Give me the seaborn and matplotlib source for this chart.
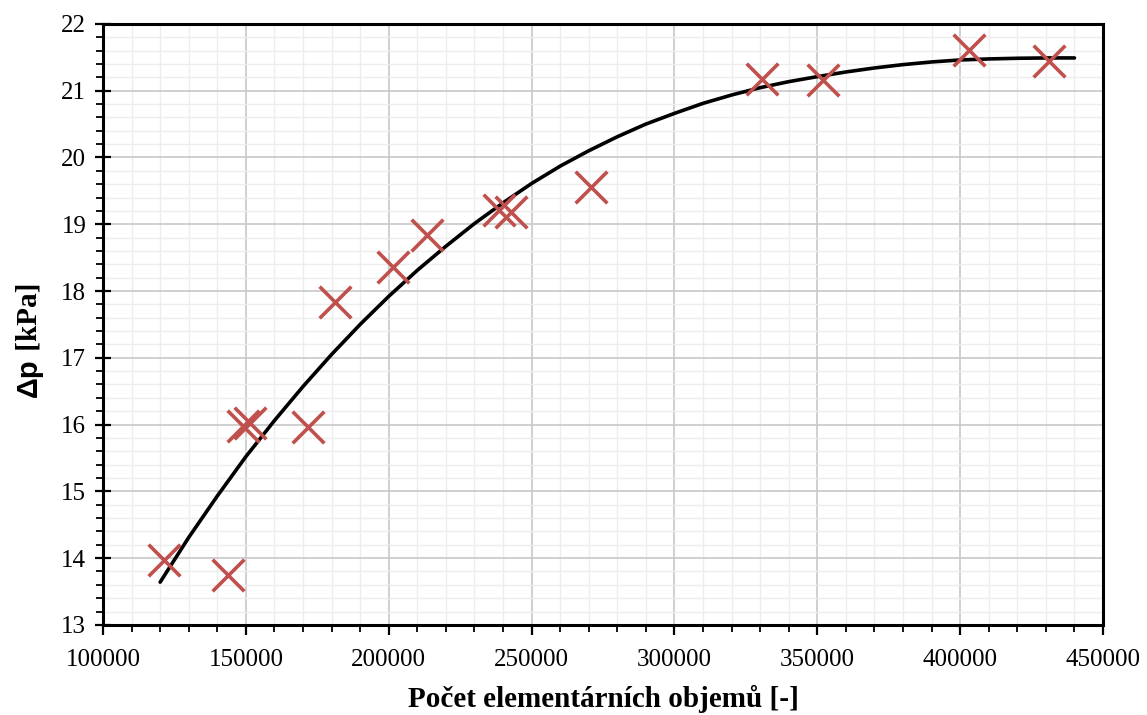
import numpy as np
import pandas as pd
import seaborn as sns
import matplotlib
matplotlib.use("Agg")
import matplotlib.pyplot as plt
from matplotlib.ticker import MultipleLocator

cells = [121300, 143700, 149000, 151300, 171600, 181300, 201400, 213300,
         238700, 242800, 270900, 330700, 351900, 403000, 431100]
dp_kpa = [13.97, 13.75, 15.98, 16.03, 15.97, 17.83, 18.36, 18.84,
          19.21, 19.19, 19.55, 21.17, 21.16, 21.61, 21.45]

# Trend curve (every 10000 elements)
trend_x = [120000, 130000, 140000, 150000, 160000, 170000, 180000, 190000,
           200000, 210000, 220000, 230000, 240000, 250000, 260000, 270000,
           280000, 290000, 300000, 310000, 320000, 330000, 340000, 350000,
           360000, 370000, 380000, 390000, 400000, 410000, 420000, 430000,
           440000]
trend_y = [13.64, 14.31, 14.93, 15.52, 16.06, 16.57, 17.05, 17.50,
           17.92, 18.31, 18.67, 19.01, 19.32, 19.61, 19.87, 20.10,
           20.31, 20.50, 20.66, 20.81, 20.935, 21.045, 21.135, 21.21,
           21.28, 21.34, 21.39, 21.43, 21.46, 21.475, 21.485, 21.49,
           21.49]

x_ticks = [100000, 150000, 200000, 250000, 300000, 350000, 400000, 450000]
y_ticks = [13, 14, 15, 16, 17, 18, 19, 20, 21, 22]
x_label = "Počet elementárních objemů [-]"
y_label_symbol = "Δp"
y_label_unit = " [kPa]"

df = pd.DataFrame({"x": cells, "y": dp_kpa})
trend = pd.DataFrame({"x": trend_x, "y": trend_y})

sns.set_theme(style="white")
plt.rcParams["font.family"] = ["Liberation Serif", "DejaVu Serif"]
plt.rcParams["text.color"] = "black"
plt.rcParams["axes.labelcolor"] = "black"
plt.rcParams["xtick.color"] = "black"
plt.rcParams["ytick.color"] = "black"

fig = plt.figure(figsize=(11.47, 7.15), dpi=100)
ax = fig.add_axes([0.0898, 0.126, 0.8719, 0.8406])

ax.set_xlim(100000, 450000)
ax.set_ylim(13, 22)
ax.xaxis.set_minor_locator(MultipleLocator(10000))
ax.yaxis.set_minor_locator(MultipleLocator(0.2))
ax.grid(which="major", color="#c8c8c8", linewidth=1.2)
ax.grid(which="minor", color="#ededed", linewidth=1.0)
ax.set_axisbelow(True)

sns.lineplot(data=trend, x="x", y="y", ax=ax, color="black", linewidth=2.6,
             zorder=3, sort=True)
sns.scatterplot(data=df, x="x", y="y", ax=ax, marker="x", s=520,
                color="#c0504d", linewidth=2.6, zorder=4)

ax.set_xticks(x_ticks)
ax.set_xticklabels([str(v) for v in x_ticks])
ax.set_yticks(y_ticks)
ax.set_yticklabels([str(v) for v in y_ticks])

for s in ax.spines.values():
    s.set_visible(True)
    s.set_color("black")
    s.set_linewidth(2.2)

ax.tick_params(axis="both", which="major", labelsize=18, color="black",
               labelcolor="black", length=7, width=1.6, bottom=True, left=True)
ax.tick_params(axis="x", which="major", direction="out", pad=10)
ax.tick_params(axis="y", which="major", direction="inout", length=12, pad=6)
ax.tick_params(axis="both", which="minor", color="black", length=5,
               width=1.3, bottom=True, left=True, direction="out")

ax.set_xlabel(x_label, fontsize=21, fontweight="bold", labelpad=10)
ax.set_ylabel("")

# y label: bold sans "Δp" followed by bold serif "[kPa]", sharing a baseline
ax.text(-0.066, 0.444, y_label_symbol, transform=ax.transAxes, rotation=90,
        rotation_mode="anchor", ha="right", va="baseline", fontsize=21,
        fontweight="bold", family=["Liberation Sans", "DejaVu Sans"])
ax.text(-0.066, 0.444, y_label_unit, transform=ax.transAxes, rotation=90,
        rotation_mode="anchor", ha="left", va="baseline", fontsize=21,
        fontweight="bold", family=["Liberation Serif", "DejaVu Serif"])

fig.savefig("out.png", dpi=100)
